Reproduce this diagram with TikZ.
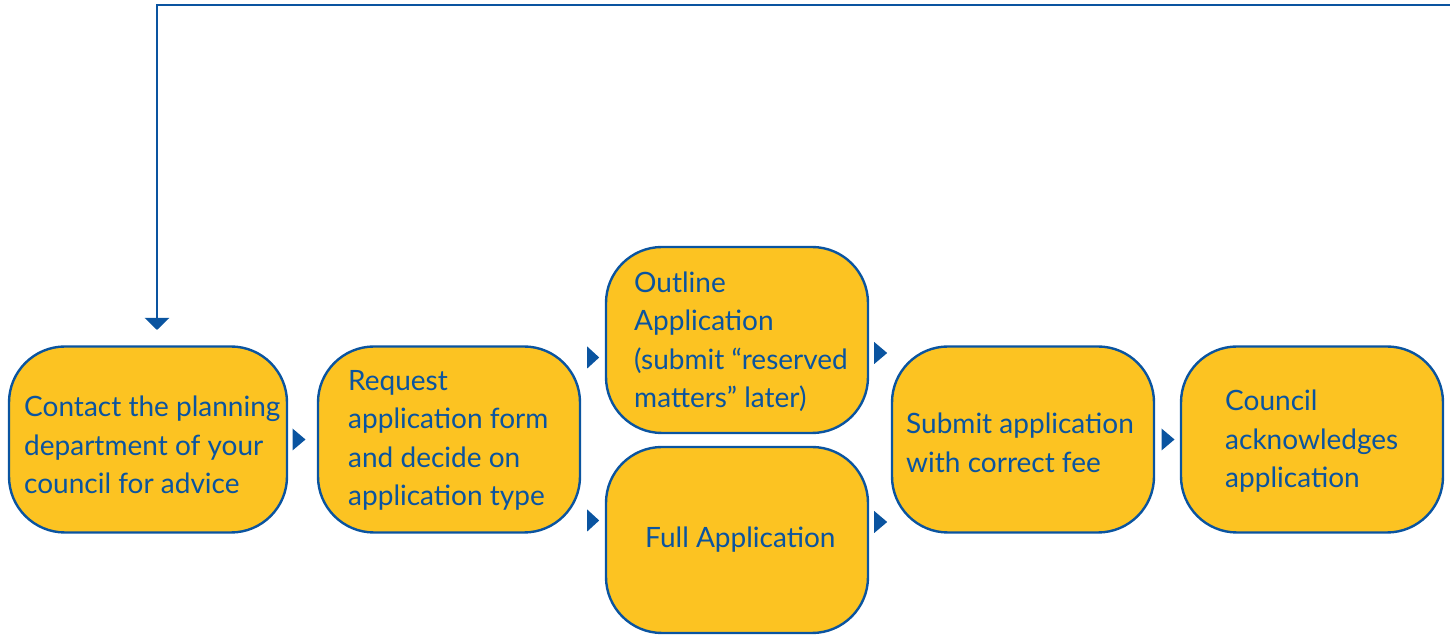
\documentclass[tikz,border=0pt]{standalone}
\usepackage{fontspec}
\setmainfont{Lato}
\usetikzlibrary{arrows.meta,calc}
\definecolor{boxfill}{RGB}{252,195,34}
\definecolor{ink}{RGB}{10,84,160}
\tikzset{
  box/.style={draw=ink, line width=2.4pt, fill=boxfill, rounded corners=56pt,
    minimum width=262pt, minimum height=186pt, inner sep=0pt},
  label/.style={text=ink, anchor=west, align=left, inner sep=0pt,
    font=\fontsize{28}{38.5}\selectfont},
  tip/.style={fill=ink},
  conn/.style={draw=ink, line width=2.4pt, -{Triangle[width=24pt,length=12pt]}}
}
\begin{document}
\begin{tikzpicture}[x=1pt,y=1pt]
\useasboundingbox (0,0) rectangle (1450,636);
% boxes (centres in px, y flipped)
\node[box, minimum width=278pt] (b1) at (148,196.5) {};
\node[box] (b2) at (449,196.5) {};
\node[box] (bo) at (737,296) {};
\node[box] (bf) at (737,96) {};
\node[box] (bs) at (1023,196.5) {};
\node[box] (bc) at (1312,196.5) {};
% texts
\node[label] (t1) at (24,191) {Contact the planning\\department of your\\council for advice};
\node[label] (t2) at (348,195.5) {Request\\application form\\and decide on\\application type};
\node[label] (to) at (634,294.5) {Outline\\Application\\(submit \textquotedblleft reserved\\matters\textquotedblright\ later)};
\node[label] (tf) at (645,96) {Full Application};
\node[label] (ts) at (906,193) {Submit application\\with correct fee};
\node[label] (tc) at (1225,194.5) {Council\\acknowledges\\application};
% small arrow tips
\fill[tip] ($(b1.east)!0.5!(b2.west)+(-4,0)$) +(-6,-11) -- +(7,0) -- +(-6,11) -- cycle;
\fill[tip] ($(b2.east)+(12,0)$) ++(0,82) +(-6,-11) -- +(6,0) -- +(-6,11) -- cycle;
\fill[tip] ($(b2.east)+(12,0)$) ++(0,-81) +(-6,-11) -- +(6,0) -- +(-6,11) -- cycle;
\fill[tip] ($(bo.east)+(11,0)$) ++(0,-13) +(-6,-11) -- +(7,0) -- +(-6,11) -- cycle;
\fill[tip] ($(bf.east)+(11,0)$) ++(0,18) +(-6,-11) -- +(7,0) -- +(-6,11) -- cycle;
\fill[tip] ($(bs.east)!0.5!(bc.west)+(0,0)$) +(-6,-11) -- +(7,0) -- +(-6,11) -- cycle;
% feedback connector
\coordinate (fs) at (1450,631);
\coordinate (fe) at (157,306);
\draw[conn] (fs) -| (fe);
\end{tikzpicture}
\end{document}
